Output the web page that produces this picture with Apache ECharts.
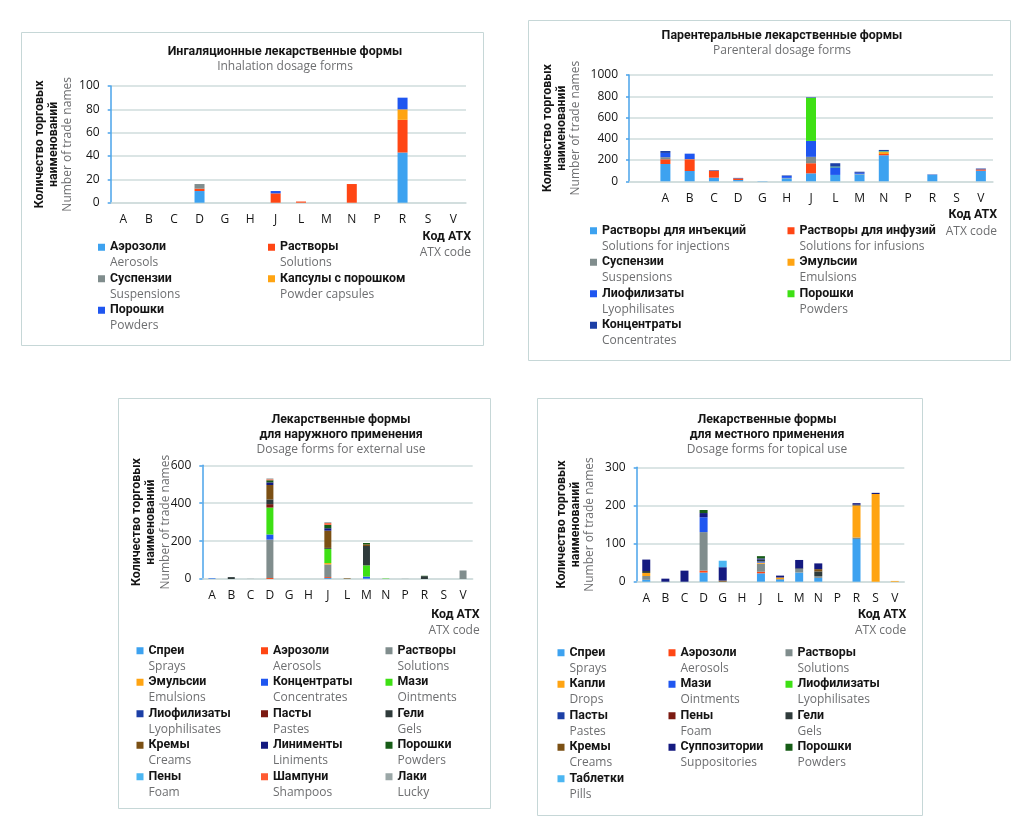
<!DOCTYPE html>
<html><head><meta charset="utf-8">
<script src="https://cdn.jsdelivr.net/npm/echarts@6/dist/echarts.min.js"></script>
<style>html,body{margin:0;padding:0;background:#fff}#c{width:1028px;height:829px}</style>
</head><body><div id="c"></div><script>
// ---------- categories ----------
const atxCodes = ['A','B','C','D','G','H','J','L','M','N','P','R','S','V'];
const atxCodesParenteral = ['','A','B','C','D','G','H','J','L','M','N','P','R','S','V'];

// ---------- Inhalation dosage forms ----------
const inhAerosols    = [0,0,0,10,0,0,0,0,0,0,0,43,0,0];
const inhSolutions   = [0,0,0,2,0,0,8,1,0,16,0,28,0,0];
const inhSuspensions = [0,0,0,4,0,0,0,0,0,0,0,0,0,0];
const inhCapsules    = [0,0,0,0,0,0,0,0,0,0,0,9,0,0];
const inhPowders     = [0,0,0,0,0,0,2,0,0,0,0,10,0,0];

// ---------- Parenteral dosage forms ----------
const parInjections   = [0,163,97,34,12,3,28,75,60,65,245,0,60,0,100];
const parInfusions    = [0,44,110,66,15,0,0,95,0,0,12,0,0,0,12];
const parSuspensions  = [0,20,3,0,0,0,4,60,0,5,0,0,3,0,0];
const parEmulsions    = [0,0,0,0,0,0,0,0,0,0,18,0,0,0,0];
const parLyophilisates= [0,40,50,0,0,0,18,150,72,10,6,0,3,0,0];
const parPowders      = [0,0,0,0,0,0,0,405,6,0,4,0,0,0,0];
const parConcentrates = [0,18,0,5,5,0,5,5,32,10,10,0,0,0,8];

// ---------- External use ----------
const extSprays       = [2,0,0,0,0,0,5,0,3,0,0,0,0,0];
const extAerosols     = [0,0,0,5,0,0,5,0,0,0,0,0,0,0];
const extSolutions    = [0,0,0,203,0,0,67,0,0,0,0,0,0,45];
const extEmulsions    = [0,0,0,0,0,0,7,0,0,0,0,0,0,0];
const extConcentrates = [2,0,0,27,0,0,0,0,10,0,0,0,0,0];
const extOintments    = [0,0,0,142,0,0,75,0,59,2,0,0,0,0];
const extLyophilisates= [0,0,0,0,0,0,0,0,0,0,0,0,0,0];
const extPastes       = [0,0,0,18,0,0,0,0,0,0,0,0,0,0];
const extGels         = [0,10,0,25,0,0,5,0,102,0,0,15,0,0];
const extCreams       = [0,0,0,76,0,0,91,3,9,0,0,0,0,0];
const extLiniments    = [0,0,0,14,0,0,13,0,0,0,0,0,0,0];
const extPowders      = [0,0,0,11,0,0,18,0,7,0,0,2,0,0];
const extFoam         = [0,0,0,0,0,0,0,0,0,0,0,0,0,0];
const extShampoos     = [0,0,0,5,0,0,9,0,0,0,0,0,0,0];
const extLucky        = [0,0,1,5,0,0,5,0,0,0,1,0,0,0];

// ---------- Topical use ----------
const topSprays       = [5,0,0,24,0,0,22,5,24,10,0,112,0,0];
const topAerosols     = [0,0,0,5,0,0,4,0,0,0,0,0,0,0];
const topSolutions    = [10,0,0,101,0,0,21,2,9,5,0,4,0,0];
const topDrops        = [8,0,0,0,0,0,3,4,0,0,0,84,230,2];
const topOintments    = [0,0,0,39,0,0,3,0,0,0,0,0,0,0];
const topLyophilisates= [0,0,0,0,0,0,0,0,0,0,0,0,0,0];
const topPastes       = [0,0,0,0,0,0,0,0,0,0,0,0,0,0];
const topFoam         = [0,0,0,0,0,0,0,0,0,0,0,0,0,0];
const topGels         = [5,0,0,0,0,0,5,0,2,12,0,2,0,0];
const topCreams       = [0,0,0,0,3,0,0,0,0,6,0,0,0,0];
const topSuppositories= [30,8,29,11,35,0,3,5,22,15,0,4,3,0];
const topPowders      = [0,0,0,8,0,0,6,0,0,0,0,0,0,0];
const topPills        = [0,0,0,0,17,0,0,0,0,0,0,0,0,0];

// ---------- styles ----------
const FONT = '"Open Sans", sans-serif';
const FONT_B = 'Roboto, "Open Sans", sans-serif';
const COL = {
  lblue:'#3da2f0', red:'#ff4614', gray:'#808d8d', orange:'#ffa412', blue:'#1f56f0',
  green:'#3ee014', dblue:'#1c3fa6', dred:'#7c1a12', slate:'#2f3b3b', brown:'#7b5014',
  navy:'#141a80', dgreen:'#165c16', sky:'#4cb6f2', ored:'#ff5a32', lgray:'#9ba7a7'
};
const BLACK = '#151515', GREY = '#6d6e70', AXIS_BLUE = '#4aa3ea', GRIDC = '#cfdcdc';
const BOLD_SIZE = 12.4;

const panels = [
  { id:'p1', cats: atxCodes, grid:{left:110.7, top:86, width:355.3, height:116.7},
    max:100, interval:20, barWidth:10, box:[21,32,462,313],
    title:{x:285, y:44.5, text:'Ингаляционные лекарственные формы', sub:'Inhalation dosage forms'},
    nameGap:36, atxGap:5, atxPad:26,
    series:[['Аэрозоли','Aerosols','lblue',inhAerosols],['Растворы','Solutions','red',inhSolutions],
            ['Суспензии','Suspensions','gray',inhSuspensions],['Капсулы с порошком','Powder capsules','orange',inhCapsules],
            ['Порошки','Powders','blue',inhPowders]],
    legends:[{left:98, top:239.5, items:['Аэрозоли','Суспензии','Порошки']},
             {left:268, top:239.5, items:['Растворы','Капсулы с порошком']}] },
  { id:'p2', cats: atxCodesParenteral, grid:{left:629, top:75, width:364, height:106.3},
    max:1000, interval:200, barWidth:10, box:[528,20,482,340],
    title:{x:782, y:28.5, text:'Парентеральные лекарственные формы', sub:'Parenteral dosage forms'},
    nameGap:46, atxGap:4, atxPad:26,
    series:[['Растворы для инъекций','Solutions for injections','lblue',parInjections],
            ['Растворы для инфузий','Solutions for infusions','red',parInfusions],
            ['Суспензии','Suspensions','gray',parSuspensions],['Эмульсии','Emulsions','orange',parEmulsions],
            ['Лиофилизаты','Lyophilisates','blue',parLyophilisates],['Порошки','Powders','green',parPowders],
            ['Концентраты','Concentrates','dblue',parConcentrates]],
    legends:[{left:590, top:223, items:['Растворы для инъекций','Суспензии','Лиофилизаты','Концентраты']},
             {left:787.5, top:223, items:['Растворы для инфузий','Эмульсии','Порошки']}] },
  { id:'p3', cats: atxCodes, grid:{left:202.3, top:465.3, width:270.4, height:113.7},
    max:600, interval:200, barWidth:7, box:[118,398,372,410],
    title:{x:341, y:412.3, text:'Лекарственные формы\nдля наружного применения', sub:'Dosage forms for external use'},
    nameGap:30, atxGap:7, atxPad:28,
    series:[['Спреи','Sprays','lblue',extSprays],['Аэрозоли','Aerosols','red',extAerosols],
            ['Растворы','Solutions','gray',extSolutions],['Эмульсии','Emulsions','orange',extEmulsions],
            ['Концентраты','Concentrates','blue',extConcentrates],['Мази','Ointments','green',extOintments],
            ['Лиофилизаты','Lyophilisates','dblue',extLyophilisates],['Пасты','Pastes','dred',extPastes],
            ['Гели','Gels','slate',extGels],['Кремы','Creams','brown',extCreams],
            ['Линименты','Liniments','navy',extLiniments],['Порошки','Powders','dgreen',extPowders],
            ['Пены','Foam','sky',extFoam],['Шампуни','Shampoos','ored',extShampoos],['Лаки','Lucky','lgray',extLucky]],
    legends:[{left:136.5, top:643, items:['Спреи','Эмульсии','Лиофилизаты','Кремы','Пены']},
             {left:261, top:643, items:['Аэрозоли','Концентраты','Пасты','Линименты','Шампуни']},
             {left:385.5, top:643, items:['Растворы','Мази','Гели','Порошки','Лаки']}] },
  { id:'p4', cats: atxCodes, grid:{left:636.7, top:467.3, width:267.6, height:114.4},
    max:300, interval:100, barWidth:8, box:[537,398,385,417],
    title:{x:767, y:412.3, text:'Лекарственные формы\nдля местного применения', sub:'Dosage forms for topical use'},
    nameGap:40, atxGap:2, atxPad:25,
    series:[['Спреи','Sprays','lblue',topSprays],['Аэрозоли','Aerosols','red',topAerosols],
            ['Растворы','Solutions','gray',topSolutions],['Капли','Drops','orange',topDrops],
            ['Мази','Ointments','blue',topOintments],['Лиофилизаты','Lyophilisates','green',topLyophilisates],
            ['Пасты','Pastes','dblue',topPastes],['Пены','Foam','dred',topFoam],
            ['Гели','Gels','slate',topGels],['Кремы','Creams','brown',topCreams],
            ['Суппозитории','Suppositories','navy',topSuppositories],['Порошки','Powders','dgreen',topPowders],
            ['Таблетки','Pills','sky',topPills]],
    legends:[{left:557.5, top:645, items:['Спреи','Капли','Пасты','Кремы','Таблетки']},
             {left:668.5, top:645, items:['Аэрозоли','Мази','Пены','Суппозитории']},
             {left:785.5, top:645, items:['Растворы','Лиофилизаты','Гели','Порошки']}] }
];

const richB = {fontFamily:FONT_B, fontWeight:'bold', fontSize:BOLD_SIZE, color:BLACK};
const richG = {fontFamily:FONT, fontSize:12, color:GREY};
// legend marker: 7x7 square placed level with the first (Russian) line of a 31px two-line label
const LEGEND_ICON = 'path://M0,0L0.01,0L0,0.01Z M0,4.25L7,4.25L7,11.25L0,11.25Z M7,31L6.99,31L7,30.99Z';
const enMap = {};
const option = {backgroundColor:'#fff', animation:false, textStyle:{fontFamily:FONT},
  title:[], grid:[], xAxis:[], yAxis:[], legend:[], series:[], graphic:[]};

panels.forEach((p, i) => {
  option.graphic.push({type:'rect', silent:true, z:-10,
    shape:{x:p.box[0]+0.5, y:p.box[1]+0.5, width:p.box[2], height:p.box[3]},
    style:{fill:'rgba(0,0,0,0)', stroke:'#c6d7d7', lineWidth:1}});
  option.title.push({text:p.title.text, subtext:p.title.sub, left:p.title.x, top:p.title.y,
    textAlign:'center', padding:0, itemGap:0,
    textStyle:{fontFamily:FONT_B, fontSize:BOLD_SIZE, fontWeight:'bold', color:BLACK, lineHeight:15},
    subtextStyle:{fontFamily:FONT, fontSize:12, color:GREY, lineHeight:15}});
  option.grid.push(Object.assign({outerBoundsMode:'none', containLabel:false}, p.grid));
  option.xAxis.push({type:'category', gridIndex:i, data:p.cats,
    axisLine:{show:true, lineStyle:{color:GRIDC, width:1.5}}, axisTick:{show:false},
    axisLabel:{interval:0, color:BLACK, fontSize:12, margin:11, fontFamily:FONT},
    name:'{b|Код АТХ}\n{g|ATX code}', nameLocation:'end', nameGap:p.atxGap,
    nameTextStyle:{align:'right', verticalAlign:'top', padding:[p.atxPad,0,0,0],
      rich:{b:Object.assign({lineHeight:16, align:'right'}, richB), g:Object.assign({lineHeight:16, align:'right'}, richG)}}});
  option.yAxis.push({type:'value', gridIndex:i, min:0, max:p.max, interval:p.interval,
    axisLine:{show:true, lineStyle:{color:AXIS_BLUE, width:1.5}},
    axisTick:{show:true, length:3, lineStyle:{color:AXIS_BLUE, width:1.5}},
    splitLine:{show:true, lineStyle:{color:GRIDC, width:1.5}},
    axisLabel:{color:BLACK, fontSize:12, margin:11, fontFamily:FONT, formatter: v => String(v)},
    name:'{b|Количество торговых}\n{b|наименований}\n{g|Number of trade names}',
    nameLocation:'middle', nameRotate:90, nameGap:p.nameGap, nameMoveOverlap:false,
    nameTextStyle:{lineHeight:14, rich:{b:Object.assign({lineHeight:14}, richB), g:Object.assign({lineHeight:14}, richG)}}});
  p.series.forEach(s => {
    const nm = p.id + '|' + s[0];
    enMap[nm] = s[1];
    option.series.push({type:'bar', name:nm, stack:p.id, xAxisIndex:i, yAxisIndex:i,
      data:s[3], barWidth:p.barWidth, itemStyle:{color:COL[s[2]]}});
  });
  p.legends.forEach(lg => option.legend.push({
    left:lg.left, top:lg.top, orient:'vertical', padding:0, itemGap:0.5,
    itemWidth:7, itemHeight:31, icon:LEGEND_ICON, selectedMode:false,
    data:lg.items.map(ru => p.id + '|' + ru),
    formatter: name => '{b|' + name.split('|')[1] + '}\n{g|' + enMap[name] + '}',
    textStyle:{rich:{b:Object.assign({lineHeight:15.5}, richB), g:Object.assign({lineHeight:15.5}, richG)}}
  }));
});

const chart = echarts.init(document.getElementById('c'), null, {renderer:'canvas'});
chart.setOption(option);
</script></body></html>
